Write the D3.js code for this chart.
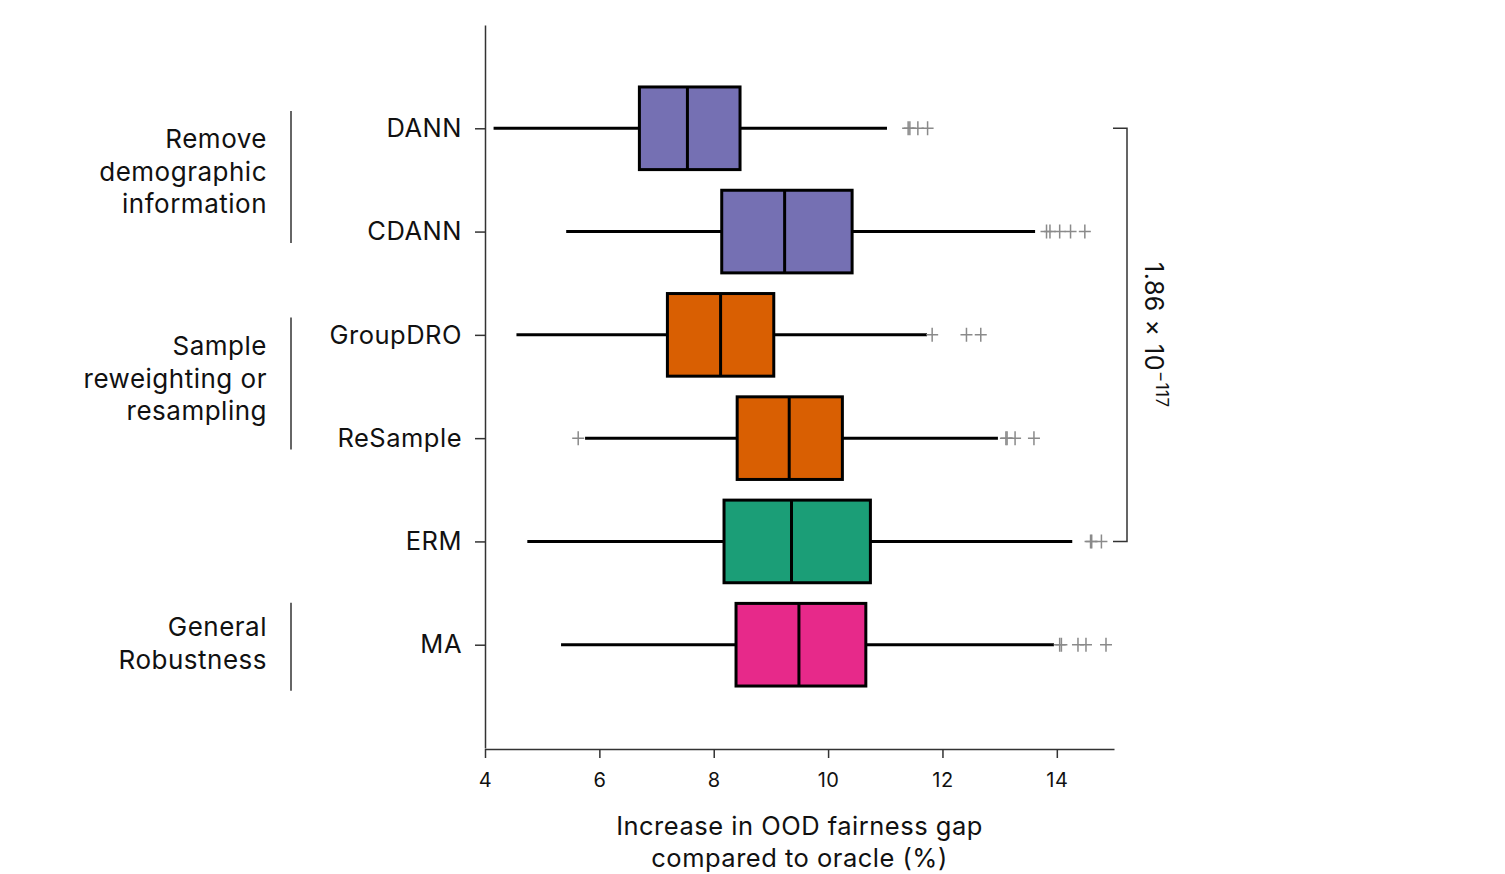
<!DOCTYPE html>
<html>
<head>
<meta charset="utf-8">
<script src="https://cdn.jsdelivr.net/npm/d3@7"></script>
<style>
  body { margin: 0; background: #fff; }
  text { font-family: Inter, "Noto Sans", sans-serif; fill: #111; letter-spacing: 0.5px; }
</style>
</head>
<body>
<script>
var w = 1505;
var h = 874;

// methods, top to bottom
var methods = ["DANN", "CDANN", "GroupDRO", "ReSample", "ERM", "MA"];
var colors = ["#7570b3", "#7570b3", "#d95f02", "#d95f02", "#1b9e77", "#e7298a"];

// box statistics (%)
var whiskerLow = [4.15, 5.42, 4.55, 5.75, 4.74, 5.33];
var q1 = [6.70, 8.14, 7.19, 8.41, 8.18, 8.39];
var median = [7.54, 9.24, 8.12, 9.32, 9.36, 9.49];
var q3 = [8.46, 10.42, 9.05, 10.25, 10.74, 10.66];
var whiskerHigh = [11.03, 13.62, 11.73, 12.97, 14.27, 13.95];
var outliers = [
  [11.40, 11.43, 11.57, 11.74],
  [13.82, 13.88, 14.05, 14.24, 14.49],
  [11.82, 12.42, 12.67],
  [5.63, 13.11, 13.13, 13.27, 13.60],
  [14.59, 14.61, 14.78],
  [14.05, 14.08, 14.37, 14.51, 14.86]
];

var xTicks = [4, 6, 8, 10, 12, 14];

var groupLabels = [
  ["Remove", "demographic", "information"],
  ["Sample", "reweighting or", "resampling"],
  ["General", "Robustness"]
];
var groupMembers = [["DANN", "CDANN"], ["GroupDRO", "ReSample"], ["MA"]];

var xTitle = ["Increase in OOD fairness gap", "compared to oracle (%)"];
var bracketFrom = "DANN";
var bracketTo = "ERM";

var svg = d3.select("body").append("svg").attr("width", w).attr("height", h);

var x = d3.scaleLinear().domain([4, 15]).range([485, 1114]);
var y = d3.scalePoint().domain(methods).range([25, 748]).padding(1);
var boxH = y.step() * 0.8;

// x axis
var xAxis = svg.append("g")
  .attr("transform", "translate(0,749)")
  .call(d3.axisBottom(x).tickValues(xTicks).tickSize(9).tickSizeOuter(0).tickPadding(15));
xAxis.select(".domain").attr("stroke", "#333").attr("stroke-width", 1.5);
xAxis.selectAll(".tick line").attr("stroke", "#333").attr("stroke-width", 1.5);
xAxis.selectAll(".tick text").attr("font-size", 20).attr("font-family", "Inter, sans-serif").attr("fill", "#111");

// y axis
var yAxis = svg.append("g")
  .attr("transform", "translate(485,0)")
  .call(d3.axisLeft(y).tickSize(10).tickSizeOuter(0).tickPadding(13));
yAxis.select(".domain").attr("stroke", "#333").attr("stroke-width", 1.5);
yAxis.selectAll(".tick line").attr("stroke", "#333").attr("stroke-width", 1.5);
yAxis.selectAll(".tick text").attr("font-size", 25.5).attr("font-family", "Inter, sans-serif").attr("fill", "#111");

// whiskers
svg.selectAll("line.whisker")
  .data(methods)
  .enter()
  .append("line")
  .attr("class", "whisker")
  .attr("x1", function (d, i) { return x(whiskerLow[i]); })
  .attr("x2", function (d, i) { return x(whiskerHigh[i]); })
  .attr("y1", function (d) { return y(d); })
  .attr("y2", function (d) { return y(d); })
  .attr("stroke", "#000")
  .attr("stroke-width", 3);

// boxes
svg.selectAll("rect.box")
  .data(methods)
  .enter()
  .append("rect")
  .attr("class", "box")
  .attr("x", function (d, i) { return x(q1[i]); })
  .attr("width", function (d, i) { return x(q3[i]) - x(q1[i]); })
  .attr("y", function (d) { return y(d) - boxH / 2; })
  .attr("height", boxH)
  .attr("fill", function (d, i) { return colors[i]; })
  .attr("stroke", "#000")
  .attr("stroke-width", 3);

// medians
svg.selectAll("line.median")
  .data(methods)
  .enter()
  .append("line")
  .attr("class", "median")
  .attr("x1", function (d, i) { return x(median[i]); })
  .attr("x2", function (d, i) { return x(median[i]); })
  .attr("y1", function (d) { return y(d) - boxH / 2; })
  .attr("y2", function (d) { return y(d) + boxH / 2; })
  .attr("stroke", "#000")
  .attr("stroke-width", 3);

// outliers as plus signs
var pts = [];
methods.forEach(function (m, i) {
  outliers[i].forEach(function (v) { pts.push({ m: m, v: v }); });
});
svg.selectAll("path.outlier")
  .data(pts)
  .enter()
  .append("path")
  .attr("class", "outlier")
  .attr("d", "M-6,0H6M0,-7V7")
  .attr("transform", function (d) { return "translate(" + x(d.v) + "," + y(d.m) + ")"; })
  .attr("fill", "none")
  .attr("stroke", "#8a8a8a")
  .attr("stroke-width", 1.5);

// group brackets on the left
groupLabels.forEach(function (lines, gi) {
  var ys = groupMembers[gi].map(function (m) { return y(m); });
  var mid = d3.mean(ys);
  var half = lines.length * 22;
  var shift = lines.length > 2 ? -3 : 2;
  svg.append("line")
    .attr("x1", 291).attr("x2", 291)
    .attr("y1", mid + shift - half).attr("y2", mid + shift + half)
    .attr("stroke", "#333").attr("stroke-width", 1.5);
  var lh = 32.5;
  var first = mid - (lines.length - 1) / 2 * lh + (lines.length > 2 ? 1 : 8);
  svg.append("text")
    .attr("text-anchor", "end")
    .attr("font-size", 26)
    .selectAll("tspan")
    .data(lines)
    .enter()
    .append("tspan")
    .attr("x", 267)
    .attr("y", function (d, i) { return first + i * lh; })
    .text(function (d) { return d; });
});

// significance bracket
var bx = x.range()[1] + 13;
var by1 = y(bracketFrom);
var by2 = y(bracketTo);
svg.append("path")
  .attr("d", "M" + (bx - 14) + "," + by1 + "H" + bx + "V" + by2 + "H" + (bx - 14))
  .attr("fill", "none")
  .attr("stroke", "#333")
  .attr("stroke-width", 1.5);

var p = svg.append("text")
  .attr("transform", "translate(" + (bx + 18) + "," + ((by1 + by2) / 2) + ") rotate(90)")
  .attr("text-anchor", "middle")
  .attr("font-size", 25);
p.append("tspan").text("1.86 \u00d7 10");
p.append("tspan").attr("font-size", 17).attr("dy", -11).text("\u2212117");

// x title
svg.append("text")
  .attr("text-anchor", "middle")
  .attr("font-size", 25.5)
  .selectAll("tspan")
  .data(xTitle)
  .enter()
  .append("tspan")
  .attr("x", (x.range()[0] + x.range()[1]) / 2)
  .attr("y", function (d, i) { return 835 + i * 32; })
  .text(function (d) { return d; });
</script>
</body>
</html>
